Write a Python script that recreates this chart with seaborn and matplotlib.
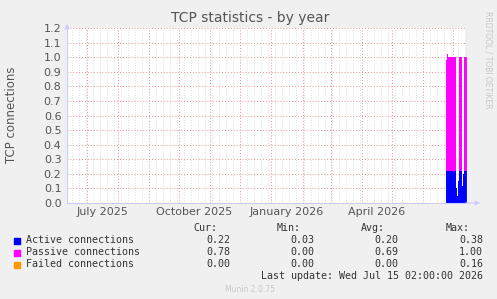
import pandas as pd
import matplotlib
matplotlib.use("Agg")
import matplotlib.pyplot as plt
import matplotlib.dates as mdates
import seaborn as sns

# daily values for the last three weeks (only period with data)
days = pd.date_range("2026-06-24", periods=21, freq="D")
active = [0.22, 0.22, 0.22, 0.22, 0.22, 0.22, 0.22, 0.21, 0.22, 0.22,
          0.10, 0.05, 0.15, 0.22, 0.22, 0.22, 0.12, 0.20, 0.22, 0.22, 0.22]
passive = [0.76, 0.80, 0.78, 0.78, 0.78, 0.78, 0.78, 0.79, 0.78, 0.78,
           0.00, 0.00, 0.00, 0.78, 0.78, 0.78, 0.00, 0.00, 0.78, 0.78, 0.78]
failed = [0.0] * 21

names = ["Active connections", "Passive connections", "Failed connections"]
colors = ["#0000ff", "#ff00ff", "#ff9900"]
cur = ["0.22", "0.78", "0.00"]
mins = ["0.03", "0.00", "0.00"]
avgs = ["0.20", "0.69", "0.00"]
maxs = ["0.38", "1.00", "0.16"]

start = pd.Timestamp("2025-06-11 02:00")
end = pd.Timestamp("2026-07-15 02:00")
label_dates = pd.to_datetime(["2025-07-16", "2025-10-16", "2026-01-16", "2026-04-16"])
label_text = ["July 2025", "October 2025", "January 2026", "April 2026"]

sns.set_style("white")
plt.rcParams["font.family"] = ["DejaVu Sans"]

fig = plt.figure(figsize=(4.97, 2.99), dpi=100, facecolor="#f0f0f0")
ax = fig.add_axes([67 / 497, 96 / 299, 400 / 497, 175 / 299])
ax.set_facecolor("white")

df = pd.DataFrame({"day": days, "active": active, "passive": passive, "failed": failed})
bottom = df["active"] * 0
for col, c in zip(["active", "passive", "failed"], colors):
    h = df[col]
    keep = h > 0
    ax.bar(df["day"][keep], h[keep], bottom=bottom[keep], width=1.0, align="edge",
           color=c, linewidth=0)
    bottom = bottom + h

ax.set_xlim(start, end)
ax.set_ylim(0, 1.2)
ax.set_yticks([i / 10 for i in range(13)])
ax.set_yticklabels([f"{i / 10:.1f}" for i in range(13)], fontsize=8, color="#555555")

# grid: weekly minor, monthly major, labels mid-quarter
ax.xaxis.set_major_locator(mdates.MonthLocator())
ax.xaxis.set_minor_locator(mdates.WeekdayLocator(byweekday=mdates.MO))
ax.set_xticklabels([])
ax.tick_params(axis="x", which="major", length=3, color="#e08080")
ax.tick_params(axis="x", which="minor", length=0)
ax.tick_params(axis="y", length=2, color="#c0c0c0", pad=2)
ax.grid(axis="x", which="minor", color="#d4d4d4", linestyle=(0, (1, 2)), linewidth=0.6)
ax.grid(axis="x", which="major", color="#e89090", linestyle=(0, (1, 2)), linewidth=0.7)
ax.grid(axis="y", color="#e89090", linestyle=(0, (1, 2)), linewidth=0.7)
ax.set_axisbelow(True)
for d, t in zip(label_dates, label_text):
    ax.text(d, -9 / 175, t, ha="center", va="center", fontsize=8, color="#555555",
            transform=ax.get_xaxis_transform())

for s in ["top", "right"]:
    ax.spines[s].set_visible(False)
ax.spines["left"].set_color("#ccccff")
ax.spines["bottom"].set_color("#ccccff")
ax.axvline(end, color="#909090", linewidth=1)
ax.annotate("", xy=(0, 1.04), xytext=(0, 0.99), xycoords="axes fraction",
            arrowprops=dict(arrowstyle="-|>", color="#ccccff", lw=0.8, mutation_scale=7))
ax.annotate("", xy=(1.04, 0), xytext=(0.99, 0), xycoords="axes fraction",
            arrowprops=dict(arrowstyle="-|>", color="#ccccff", lw=0.8, mutation_scale=7))

fig.text(250 / 497, 1 - 18 / 299, "TCP statistics - by year", ha="center", va="center",
         fontsize=10, color="#555555")
fig.text(12 / 497, 1 - 115 / 299, "TCP connections", rotation=90, ha="center",
         va="center", fontsize=8.5, color="#555555")
fig.text(488 / 497, 1 - 60 / 299, "RRDTOOL / TOBI OETIKER", rotation=270, ha="center",
         va="center", fontsize=5.5, color="#c8c8c8")

mono = "DejaVu Sans Mono"
fs = 7.2
def fy(y):
    return 1 - y / 299

for x, h in [(217, "Cur:"), (301, "Min:"), (385, "Avg:"), (470, "Max:")]:
    fig.text(x / 497, fy(228), h, ha="right", va="center", family=mono, fontsize=fs,
             color="#333333")
for i, name in enumerate(names):
    y = fy(240 + 12 * i)
    fig.patches.append(plt.Rectangle((14 / 497, y - 3.5 / 299), 6 / 497, 6 / 299,
                                     transform=fig.transFigure, color=colors[i]))
    fig.text(26 / 497, y, name, ha="left", va="center", family=mono, fontsize=fs,
             color="#333333")
    for x, v in [(230, cur[i]), (314, mins[i]), (398, avgs[i]), (483, maxs[i])]:
        fig.text(x / 497, y, v, ha="right", va="center", family=mono, fontsize=fs,
                 color="#333333")
fig.text(483 / 497, fy(276), "Last update: Wed Jul 15 02:00:00 2026", ha="right",
         va="center", family=mono, fontsize=fs, color="#333333")
fig.text(250 / 497, fy(289), "Munin 2.0.75", ha="center", va="center", fontsize=5.5,
         color="#c8c8c8")

fig.savefig("out.png", dpi=100, facecolor=fig.get_facecolor())
